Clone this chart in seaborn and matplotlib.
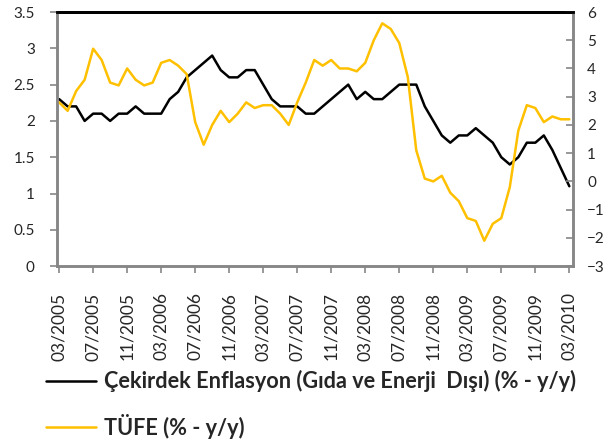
import pandas as pd
import matplotlib
matplotlib.use("Agg")
import matplotlib.pyplot as plt
import seaborn as sns

# monthly data, 03/2005 - 03/2010
months = pd.date_range("2005-03-01", periods=61, freq="MS")

cekirdek = [2.3, 2.2, 2.2, 2.0, 2.1, 2.1, 2.0, 2.1, 2.1, 2.2,
            2.1, 2.1, 2.1, 2.3, 2.4, 2.6, 2.7, 2.8, 2.9, 2.7,
            2.6, 2.6, 2.7, 2.7, 2.5, 2.3, 2.2, 2.2, 2.2, 2.1,
            2.1, 2.2, 2.3, 2.4, 2.5, 2.3, 2.4, 2.3, 2.3, 2.4,
            2.5, 2.5, 2.5, 2.2, 2.0, 1.8, 1.7, 1.8, 1.8, 1.9,
            1.8, 1.7, 1.5, 1.4, 1.5, 1.7, 1.7, 1.8, 1.6, 1.35,
            1.1]

tufe = [2.8, 2.5, 3.2, 3.6, 4.7, 4.3, 3.5, 3.4, 4.0, 3.6,
        3.4, 3.5, 4.2, 4.3, 4.1, 3.8, 2.1, 1.3, 2.0, 2.5,
        2.1, 2.4, 2.8, 2.6, 2.7, 2.7, 2.4, 2.0, 2.8, 3.5,
        4.3, 4.1, 4.3, 4.0, 4.0, 3.9, 4.2, 5.0, 5.6, 5.4,
        4.9, 3.7, 1.1, 0.1, 0.0, 0.2, -0.4, -0.7, -1.3, -1.4,
        -2.1, -1.5, -1.3, -0.2, 1.8, 2.7, 2.6, 2.1, 2.3, 2.2,
        2.2]

label_core = "Çekirdek Enflasyon (Gıda ve Enerji  Dışı) (% - y/y)"
label_cpi = "TÜFE (% - y/y)"

df = pd.DataFrame({"idx": range(len(months)), "core": cekirdek, "cpi": tufe})

sns.set_style("white")
plt.rcParams["font.family"] = ["Lato", "DejaVu Sans"]

fig = plt.figure(figsize=(6.13, 4.45), dpi=100)
ax = fig.add_axes([0.093, 0.402, 0.842, 0.571])
ax2 = ax.twinx()

sns.lineplot(data=df, x="idx", y="core", ax=ax, color="black", linewidth=1.8, label=label_core, legend=False)
sns.lineplot(data=df, x="idx", y="cpi", ax=ax2, color="#FFC000", linewidth=1.8, label=label_cpi, legend=False)

gray = "#868686"
ax.set_xlim(-0.25, 60.45)
ax.set_ylim(0, 3.5)
ax2.set_ylim(-3, 6)
ax.set_yticks([0, 0.5, 1, 1.5, 2, 2.5, 3, 3.5])
ax.set_yticklabels(["0", "0.5", "1", "1.5", "2", "2.5", "3", "3.5"])
ax2.set_yticks(range(-3, 7))

tick_pos = list(range(0, 61, 4))
ax.set_xticks(tick_pos)
ax.set_xticklabels([months[i].strftime("%m/%Y") for i in tick_pos], rotation=90, fontsize=12.5)
ax.set_xlabel("")
ax.set_ylabel("")
ax2.set_ylabel("")

for a in (ax, ax2):
    for s in ("left", "right", "bottom"):
        a.spines[s].set_color(gray)
        a.spines[s].set_linewidth(1.8)
    a.spines["top"].set_color("black")
    a.spines["top"].set_linewidth(2)

ax.tick_params(axis="x", direction="out", length=5, width=1.2, color=gray, pad=14, bottom=True)
ax.tick_params(axis="y", direction="out", length=5, width=1.2, color=gray, pad=11, labelsize=11, left=True)
ax2.tick_params(axis="y", direction="in", length=5, width=1.2, color=gray, pad=10, labelsize=11, right=True)

# legend below the plot
h1, l1 = ax.get_legend_handles_labels()
h2, l2 = ax2.get_legend_handles_labels()
fig.legend(h1 + h2, l1 + l2, loc="upper left", bbox_to_anchor=(0.044, 0.212),
           bbox_transform=fig.transFigure, frameon=False, handlelength=2.3,
           handletextpad=0.35, labelspacing=1.0, prop={"weight": "bold", "size": 15.6})

fig.savefig("out.png", dpi=100)
